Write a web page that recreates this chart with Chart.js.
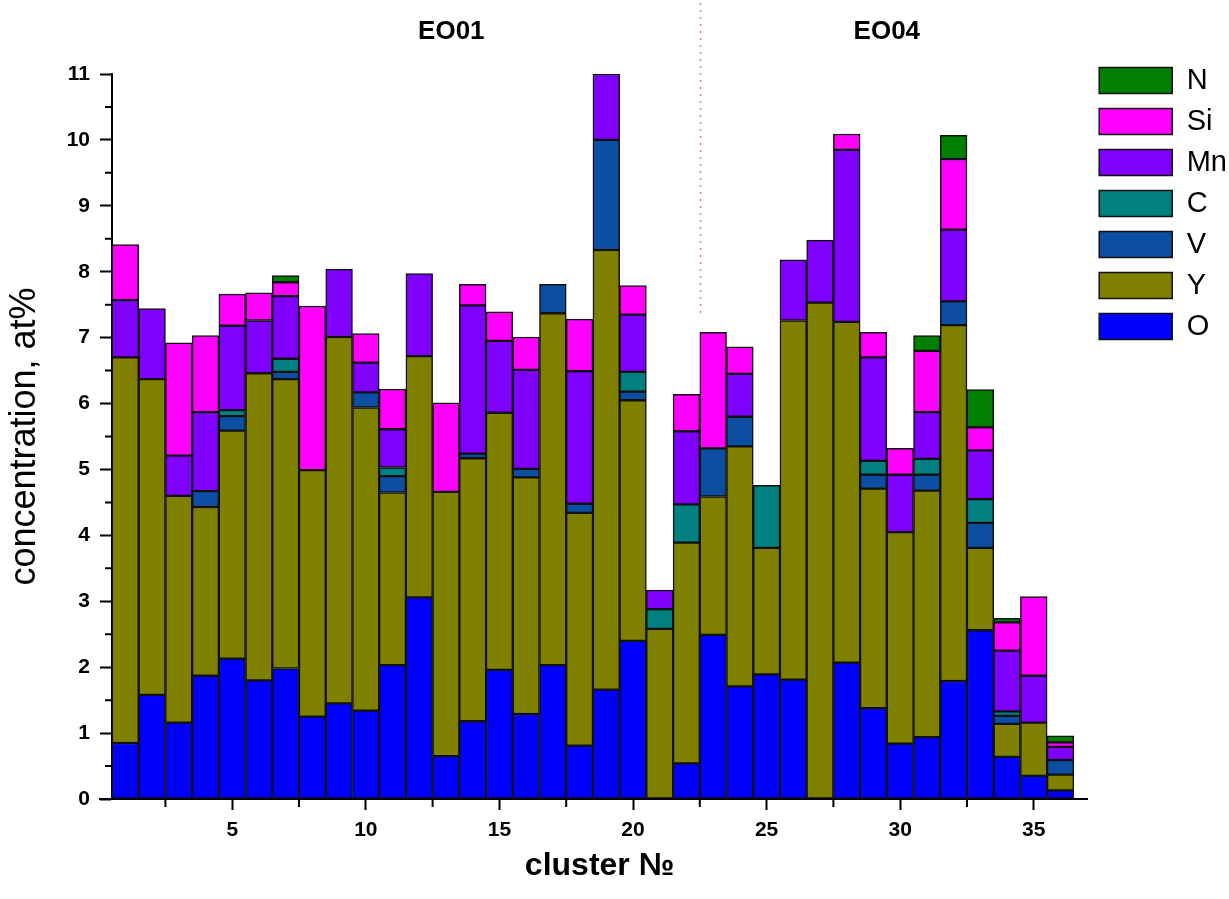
<!DOCTYPE html>
<html>
<head>
<meta charset="utf-8">
<title>cluster composition</title>
<script src="https://cdn.jsdelivr.net/npm/chart.js@4.4.1/dist/chart.umd.min.js"></script>
<style>
  html, body { margin: 0; padding: 0; background: #fff; }
  #bar-chart { display: block; }
</style>
</head>
<body>
<canvas id="bar-chart" width="1229" height="899"></canvas>
<script>
// cluster numbers along the x axis
const clusters = [1, 2, 3, 4, 5, 6, 7, 8, 9, 10, 11, 12, 13, 14, 15, 16, 17, 18,
                  19, 20, 21, 22, 23, 24, 25, 26, 27, 28, 29, 30, 31, 32, 33, 34, 35, 36];

// element contents per cluster, at% (stacked bottom to top: O, Y, V, C, Mn, Si, N)
const O  = [0.85, 1.58, 1.16, 1.87, 2.13, 1.80, 1.98, 1.25, 1.45, 1.34, 2.03, 3.06,
            0.65, 1.18, 1.96, 1.29, 2.03, 0.81, 1.66, 2.40, 0, 0.54, 2.49, 1.71,
            1.89, 1.81, 0, 2.07, 1.38, 0.84, 0.94, 1.79, 2.56, 0.64, 0.35, 0.13];
const Y  = [5.85, 4.79, 3.44, 2.56, 3.46, 4.66, 4.39, 3.74, 5.56, 4.60, 2.62, 3.66,
            4.01, 3.99, 3.90, 3.59, 5.34, 3.53, 6.67, 3.65, 2.58, 3.35, 2.10, 3.64,
            1.92, 5.45, 7.53, 5.17, 3.33, 3.21, 3.74, 5.40, 1.25, 0.50, 0.81, 0.24];
const V  = [0, 0, 0, 0.24, 0.22, 0, 0.11, 0, 0, 0.23, 0.25, 0,
            0, 0.07, 0, 0.13, 0.44, 0.14, 1.67, 0.13, 0, 0, 0.73, 0.45,
            0, 0, 0, 0, 0.21, 0, 0.24, 0.36, 0.38, 0.12, 0, 0.22];
const C  = [0, 0, 0, 0, 0.09, 0, 0.20, 0, 0, 0, 0.13, 0,
            0, 0, 0, 0, 0, 0, 0, 0.30, 0.30, 0.58, 0, 0,
            0.95, 0, 0, 0, 0.21, 0, 0.24, 0, 0.36, 0.07, 0, 0];
const Mn = [0.87, 1.07, 0.61, 1.20, 1.28, 0.80, 0.95, 0, 1.03, 0.45, 0.58, 1.25,
            0, 2.25, 1.09, 1.50, 0, 2.01, 1.00, 0.87, 0.29, 1.11, 0, 0.65,
            0, 0.92, 0.95, 2.61, 1.57, 0.87, 0.71, 1.09, 0.74, 0.92, 0.71, 0.20];
const Si = [0.84, 0, 1.71, 1.16, 0.48, 0.42, 0.21, 2.49, 0, 0.44, 0.61, 0,
            1.35, 0.32, 0.44, 0.50, 0, 0.79, 0, 0.44, 0, 0.56, 1.76, 0.41,
            0, 0, 0, 0.24, 0.38, 0.40, 0.93, 1.07, 0.35, 0.43, 1.20, 0.07];
const N  = [0, 0, 0, 0, 0, 0, 0.10, 0, 0, 0, 0, 0,
            0, 0, 0, 0, 0, 0, 0, 0, 0, 0, 0, 0,
            0, 0, 0, 0, 0, 0, 0.23, 0.36, 0.57, 0.06, 0, 0.10];

const elements = ["O", "Y", "V", "C", "Mn", "Si", "N"];
const series = [O, Y, V, C, Mn, Si, N];
const colors = ["#0000ff", "#808000", "#0b4ea2", "#008080", "#8000ff", "#ff00ff", "#007f00"];

// tick positions and the two sample groups
const yTicks = [0, 0.5, 1, 1.5, 2, 2.5, 3, 3.5, 4, 4.5, 5, 5.5, 6, 6.5, 7, 7.5, 8, 8.5, 9, 9.5, 10, 10.5, 11];
const xTicks = [2.5, 5, 7.5, 10, 12.5, 15, 17.5, 20, 22.5, 25, 27.5, 30, 32.5, 35];
const groups = ["EO01", "EO04"];
const groupPos = [13.2, 29.5];
const divider = 22.5;

const FONT = "'Liberation Sans', Arial, sans-serif";
Chart.defaults.font.family = FONT;
Chart.defaults.color = "#000";

const isMajorY = v => Number.isInteger(v);
const isMajorX = v => v % 5 === 0;
// only major ticks get a grid tick mark, minor ones are drawn shorter below
const tickColorFor = test => c => (c.tick && !test(c.tick.value) ? "rgba(0,0,0,0)" : "#000");

// short minor ticks, axis stub left of the origin, dotted line splitting the two samples
const extras = {
  id: "extras",
  afterDraw(chart) {
    const { ctx, chartArea, scales } = chart;
    ctx.save();
    ctx.strokeStyle = "#000";
    ctx.lineWidth = 2;
    ctx.beginPath();
    yTicks.filter(v => !isMajorY(v)).forEach(v => {
      const py = scales.y.getPixelForValue(v);
      ctx.moveTo(chartArea.left - 7, py);
      ctx.lineTo(chartArea.left, py);
    });
    xTicks.filter(v => !isMajorX(v)).forEach(v => {
      const px = scales.x.getPixelForValue(v);
      ctx.moveTo(px, chartArea.bottom);
      ctx.lineTo(px, chartArea.bottom + 8);
    });
    ctx.moveTo(chartArea.left - 13, chartArea.bottom);
    ctx.lineTo(chartArea.left, chartArea.bottom);
    ctx.stroke();

    const dx = Math.round(scales.x.getPixelForValue(divider)) + 0.5;
    ctx.strokeStyle = "#d9807a";
    ctx.lineWidth = 1.5;
    ctx.setLineDash([2, 5]);
    ctx.beginPath();
    ctx.moveTo(dx, 3);
    ctx.lineTo(dx, 315);
    ctx.stroke();
    ctx.restore();
  }
};

const datasets = series.map((vals, k) => ({
  label: elements[k],
  data: clusters.map((c, i) => ({ x: c, y: vals[i] })).filter(p => p.y > 0),
  backgroundColor: colors[k],
  borderColor: "#111",
  borderWidth: 1.5,
  borderSkipped: false,
  barPercentage: 1,
  categoryPercentage: 1,
  stack: "all"
}));

let ctx = document.getElementById("bar-chart").getContext("2d");
window.myBar = new Chart(ctx, {
  type: "bar",
  data: { datasets: datasets },
  plugins: [extras],
  options: {
    responsive: false,
    animation: false,
    layout: { padding: { left: 0, right: -8, top: 0, bottom: 0 } },
    plugins: {
      tooltip: { enabled: false },
      legend: {
        position: "right",
        align: "start",
        reverse: true,
        // empty title keeps the entries level with the upper plot edge
        title: { display: true, text: "", font: { size: 10 }, padding: { top: 0, bottom: 42 } },
        labels: {
          boxWidth: 73,
          boxHeight: 26,
          padding: 12,
          color: "#000",
          font: { size: 29 }
        }
      }
    },
    scales: {
      x: {
        type: "linear",
        min: 0.5,
        max: 37,
        offset: false,
        stacked: true,
        afterBuildTicks: s => { s.ticks = xTicks.map(v => ({ value: v })); },
        afterFit: s => { s.height = 100; },
        ticks: {
          autoSkip: false,
          maxRotation: 0,
          padding: 8,
          font: { size: 21, weight: "bold" },
          callback: v => (isMajorX(v) ? v : "")
        },
        grid: {
          drawOnChartArea: false,
          offset: false,
          tickLength: 11,
          tickWidth: 2,
          tickColor: tickColorFor(isMajorX)
        },
        border: { color: "#000", width: 2 },
        title: {
          display: true,
          text: "cluster №",
          font: { size: 32, weight: "bold" },
          padding: { top: 0, bottom: 14 }
        }
      },
      top: {
        type: "linear",
        position: "top",
        min: 0.5,
        max: 37,
        offset: false,
        afterBuildTicks: s => { s.ticks = groupPos.map(v => ({ value: v })); },
        afterFit: s => { s.height = 74; },
        ticks: {
          autoSkip: false,
          maxRotation: 0,
          padding: 27,
          font: { size: 26, weight: "bold" },
          callback: (v, i) => groups[i]
        },
        grid: { display: false, drawTicks: false },
        border: { display: false }
      },
      y: {
        min: 0,
        max: 11,
        stacked: true,
        afterBuildTicks: s => { s.ticks = yTicks.map(v => ({ value: v })); },
        afterFit: s => { s.width = 112; },
        ticks: {
          padding: 10,
          font: { size: 21, weight: "bold" },
          callback: v => (isMajorY(v) ? v : "")
        },
        grid: {
          drawOnChartArea: false,
          tickLength: 12,
          tickWidth: 2,
          tickColor: tickColorFor(isMajorY)
        },
        border: { color: "#000", width: 2 },
        title: {
          display: true,
          text: "concentration, at%",
          font: { size: 36 },
          padding: { top: 3, bottom: 0 }
        }
      }
    }
  }
});
</script>
</body>
</html>
